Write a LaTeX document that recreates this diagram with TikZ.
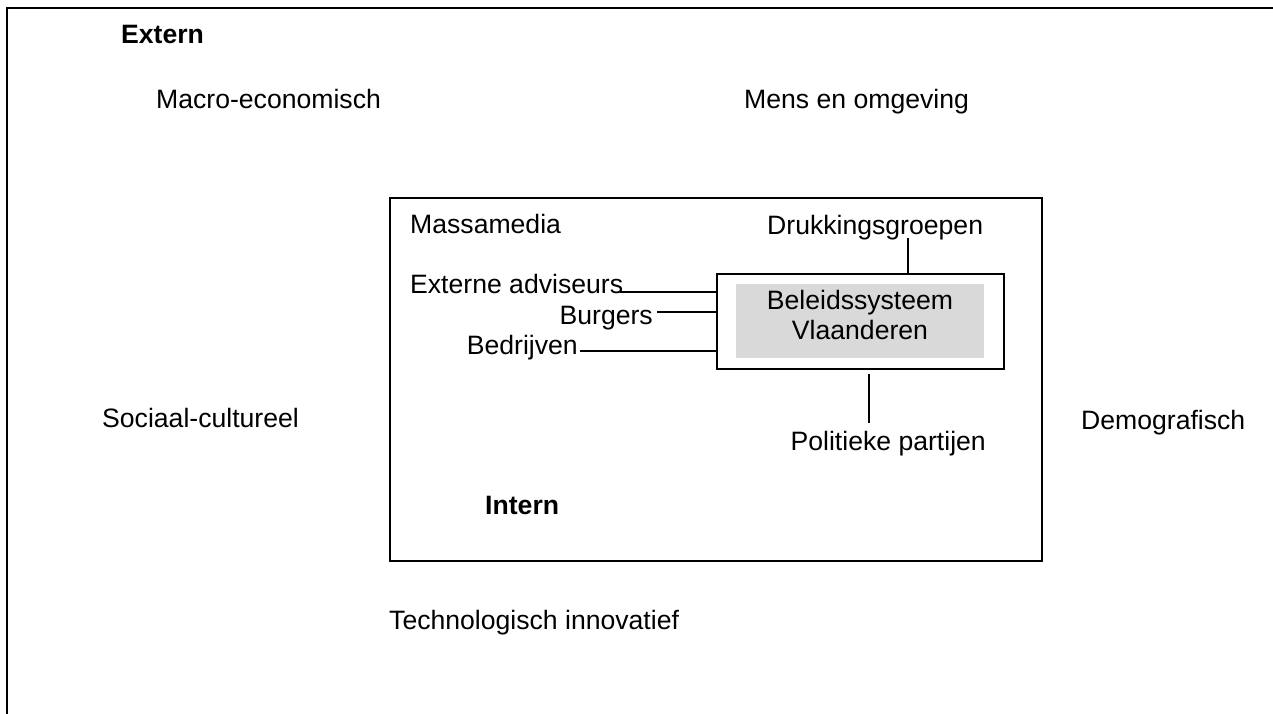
\documentclass[tikz,border=0pt]{standalone}
\usepackage{fontspec}
\setmainfont{Liberation Sans}
\begin{document}
\begin{tikzpicture}[x=1pt,y=-1pt,
  lbl/.style={inner sep=0pt, anchor=base west, font=\fontsize{26.6}{30}\selectfont},
  lble/.style={lbl, anchor=base east},
  lblc/.style={lbl, anchor=base},
  frame/.style={draw, line width=2pt},
  conn/.style={draw, line width=1.5pt}]
\useasboundingbox (0,0) rectangle (1273,713);
% outer frame (clipped at right and bottom)
\coordinate (fbl) at (6.5,715);
\coordinate (ftl) at (6.5,7.5);
\coordinate (ftr) at (1275,7.5);
\draw[line width=2pt] (fbl) -- (ftl) -- (ftr);
% boxes
\node[frame, minimum width=652pt, minimum height=363.5pt, anchor=north west, inner sep=0pt] (inner) at (389,196.5) {};
\node[frame, minimum width=287pt, minimum height=95pt, anchor=north west, inner sep=0pt] (box) at (716,273) {};
\node[fill={rgb,255:red,217;green,217;blue,217}, minimum width=248pt, minimum height=74pt, anchor=north west, inner sep=0pt] (core) at (736,284) {};
\node[lblc] (bel1) at (860,309) {Beleidssysteem};
\node[lblc] (bel2) at (860,339) {Vlaanderen};
% external labels
\node[lbl, font=\fontsize{26.6}{30}\selectfont\bfseries] (extern) at (121,43.5) {Extern};
\node[lbl] (macro) at (156,108) {Macro-economisch};
\node[lbl] (mens) at (744,108) {Mens en omgeving};
\node[lbl] (soc) at (102,427) {Sociaal-cultureel};
\node[lbl] (demo) at (1081,429) {Demografisch};
\node[lbl] (tech) at (389,629) {Technologisch innovatief};
% internal labels
\node[lbl, font=\fontsize{26.6}{30}\selectfont\bfseries] (intern) at (485,514) {Intern};
\node[lbl] (mm) at (410,233) {Massamedia};
\node[lbl] (ea) at (410,293) {Externe adviseurs};
\node[lble] (bu) at (653,324) {Burgers};
\node[lble] (be) at (578,354) {Bedrijven};
\node[lbl] (dr) at (767,234) {Drukkingsgroepen};
\node[lble] (pp) at (986,450) {Politieke partijen};
% connectors
\draw[conn] ([xshift=-3pt,yshift=1pt]ea.base east) -- ([yshift=1pt]ea.base east -| box.west);
\draw[conn] ([xshift=4pt,yshift=12pt]bu.base east) -- ([yshift=12pt]bu.base east -| box.west);
\draw[conn] ([xshift=2pt,yshift=3pt]be.base east) -- ([yshift=3pt]be.base east -| box.west);
\coordinate (dtop) at (908,238);
\draw[conn] (dtop) -- (dtop |- box.north);
\coordinate (pbot) at (869,423);
\draw[conn] ([yshift=-4pt]box.south -| pbot) -- (pbot);
\end{tikzpicture}
\end{document}
